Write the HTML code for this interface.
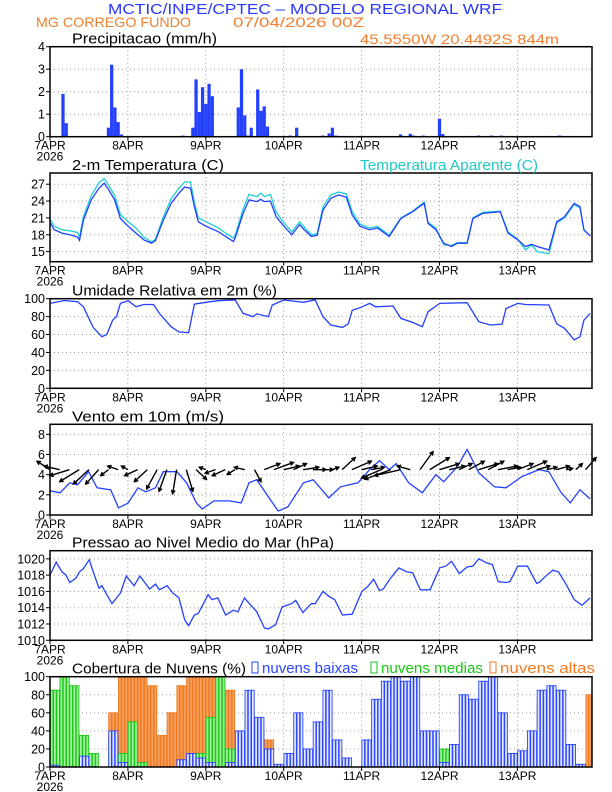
<!DOCTYPE html>
<html><head><meta charset="utf-8"><style>
body{margin:0;background:#fff}
svg{display:block;font-family:"Liberation Sans",sans-serif}
</style></head><body>
<svg id="c" width="612" height="792" viewBox="0 0 612 792">
<text x="108" y="14" font-size="15" fill="#2838ff" textLength="394" lengthAdjust="spacingAndGlyphs">MCTIC/INPE/CPTEC – MODELO REGIONAL WRF</text>
<text x="36" y="27" font-size="14" fill="#f08030" textLength="155" lengthAdjust="spacingAndGlyphs">MG CORREGO FUNDO</text>
<text x="233" y="27" font-size="14" fill="#f08030" textLength="131" lengthAdjust="spacingAndGlyphs">07/04/2026 00Z</text>
<text x="360" y="44" font-size="14" fill="#f08030" textLength="199" lengthAdjust="spacingAndGlyphs">45.5550W 20.4492S 844m</text>
</svg>
<script>
// ---- data ----
const precipHours=[4,5,18,19,20,21,22,41,44,45,46,47,48,49,50,58,59,60,61,62,64,65,66,67,74,76,84,86,87,88,108,111,112,115,120,121,132,136,139,157];
const precipVals=[1.9,0.6,0.4,3.2,1.3,0.65,0.1,0.05,0.4,2.55,1.1,2.2,1.45,2.35,1.8,1.3,3.0,0.95,0.05,0.4,2.1,1.15,1.35,0.45,0.05,0.4,0.05,0.15,0.4,0.05,0.1,0.13,0.05,0.05,0.8,0.12,0.05,0.05,0.05,0.05];
const tempHours=[0,1.3,3.7,6.1,8.5,9.1,10.3,12.7,15.1,16.7,18.1,19.9,21.7,24.1,26.5,28.9,31.3,32.5,34.9,37.3,39.7,41.5,43.3,44.5,45.7,48.1,51.7,54.1,56.5,57.1,59.5,61.3,63.7,64.9,66.1,67.9,69.7,72.1,74.5,76.9,78.1,80.5,82.3,84.1,86.5,88.9,91.3,93.1,95.5,98.5,100.9,104.5,108.1,111.7,115.3,116.5,118.9,121.3,123.7,125.5,128.5,130.3,133.3,138.7,141.1,144.1,146.5,148.3,150.1,153.7,156.1,158.5,161.5,163.3,164.5,166.4];
const tempVals=[20.2,18.9,18.3,18.0,17.6,17.0,20.6,24.2,26.3,27.2,26.0,24.2,20.9,19.5,18.3,17.1,16.5,17.0,20.6,23.6,25.4,26.5,26.3,23.0,20.3,19.5,18.6,17.7,16.8,17.5,21.8,24.2,23.9,24.3,23.9,24.0,21.2,19.5,18.0,19.8,19.0,17.7,17.9,22.4,24.5,25.1,24.7,21.5,19.5,18.9,19.2,17.7,20.9,22.1,23.6,20.0,18.9,16.5,15.9,16.5,16.5,20.9,21.8,22.1,18.3,17.1,15.9,16.3,15.9,15.3,20.3,21.2,23.6,23.0,18.9,17.8];
const apparentVals=[20.8,19.5,18.9,18.7,18.4,17.6,21.2,25,27.3,28.0,26.8,25,21.6,20.3,19.2,17.6,16.7,17.2,21.2,24.4,26.3,27.4,27.4,23.8,21.0,20.3,19.3,18.3,17.4,18.0,22.6,25.2,24.8,25.4,24.8,25.2,22.0,20.1,18.5,20.3,19.5,18.0,18.2,23.0,25.1,25.6,25.3,22.1,19.9,19.2,19.5,17.9,21.0,22.2,23.8,20.2,19.2,16.2,16.1,16.6,16.6,21.0,22.0,22.2,18.5,17.2,15.3,16.2,15.0,14.6,20.1,21.0,23.4,22.8,18.8,17.8];
const rhHours=[0,2.5,4.3,8.5,10.3,13.3,16,17.5,19.3,20.5,21.7,24.1,26.5,28.9,31.9,33.7,37.3,39.7,42.7,44.5,48.1,51.7,57.1,59.5,62.5,63.7,67.3,68.5,72.1,78.1,80.5,81.7,84.1,86.5,90.1,91.9,93.1,95.5,98.5,100.3,105.7,108.1,111.7,114.7,116.5,120.1,128.5,132.1,135.7,139.3,140.5,144.1,146.5,153.7,156.1,158.5,161.5,163.3,164.5,166.4];
const rhVals=[94.8,96.7,98,96.7,91,68,57.6,60,76,80,94.8,97.8,91,93.5,93.5,83.6,68.8,63,62,94,96,97.8,98.5,83.6,80,83,80,93,98.5,96,97.8,98.5,80,70.6,68,72,87,90,94.8,91,91.8,78,73.6,68.8,85.5,94.8,95.5,74.3,70.6,71.7,89,94.8,93.5,93,72,67,54,57.6,76,83.6];
const windHours=[0,3.1,6.1,8.5,11.9,14.5,18.7,21.1,24.1,27.1,29.5,32.5,34.9,39.1,42.1,45.1,46.9,50.5,55.3,58.9,61.3,63.7,67.3,70.3,73.3,78.1,81.1,85.9,89.5,94.9,98.5,101.5,104.5,106.7,110.5,114.7,118.9,121.3,125.5,128.5,132.1,136.9,140.5,145.3,150.7,153.7,157.3,160.3,163.3,166.4];
const windVals=[2.4,2.2,3.2,3.0,4.3,2.7,2.5,0.7,1.2,2.7,2.3,2.7,4.3,4.3,3.2,1.2,0.6,1.4,1.4,1.2,3.2,3.5,1.8,0.4,0.8,3.2,3.5,1.7,2.8,3.2,4.5,5.4,4.5,5.1,3.2,2.2,4.0,3.3,4.8,6.5,4.2,2.8,2.7,3.8,4.5,4.3,2.3,1.2,2.5,1.6];
const windU=[-1,-1.2,-1.5,-1.5,-1.2,-1,-0.6,-0.8,-0.5,-1,-1,-0.8,-0.6,-0.3,0.5,0.8,-0.5,-0.8,-1,-0.6,-0.8,0.5,1.2,1.5,1.2,1,1.2,1,0.8,0.5,1.0,1.5,1.2,1,-1.5,-2,-2,-1,1,1.5,1.5,1.2,1,1.2,1.5,1.2,1.5,1,1.2,1.5,1,0.8,1,0.5,0.5,0.8];
const windV=[0.7,0.3,-0.5,-1.0,-1.2,-1.2,-0.5,0.3,0.3,-0.5,-1,-1.6,-1.8,-2,-1.8,-0.8,0.2,-0.3,-0.5,-0.4,0.2,-1.0,0.5,0.6,0.3,0.5,0.2,0,0,0.2,1.0,0.7,0.3,0.2,-0.7,-0.8,-0.5,0.3,1.5,1,0.5,0.3,0.5,0.7,0.5,0.7,0.3,0.2,0.5,0.7,0.3,0.2,0.3,0.1,0.5,1.0];
const presHours=[0,1.9,3.7,4.9,6.1,7.9,9.1,10.3,12.1,13.3,15.1,16,17.5,19.1,21.7,23.5,25.9,27.7,30.7,32.5,33.7,36.1,37.9,39.7,41.5,42.7,44.5,45.7,48.7,49.9,51.7,54.1,56.5,57.9,59.9,61.9,63.7,66.1,67.3,69.5,71.5,74.5,75.7,77.9,80.5,81.7,84.1,85.9,87.7,90.1,93.1,96.1,97.9,99.7,101.5,102.7,104.5,107.5,109.9,111.7,114.1,117.1,120.1,121.9,123.7,126.1,128.5,130.3,132.1,134.5,136.3,138.1,140.5,141.7,144.1,147.1,149.9,150.7,152.5,154.9,156.7,159.1,161.5,163.9,166.4];
const presVals=[1018.0,1019.6,1018.4,1018.0,1017.1,1017.6,1018.4,1018.8,1019.9,1018.4,1016.4,1016.7,1015.6,1014.5,1015.8,1017.9,1016.7,1017.9,1016.3,1016.9,1016.2,1016.7,1015.8,1015.2,1012.5,1011.8,1013.1,1013.3,1015.6,1015.0,1015.2,1013.1,1013.7,1013.5,1015.2,1014.3,1013.5,1011.5,1011.4,1011.9,1014.1,1014.5,1014.9,1013.4,1014.5,1014.5,1016.0,1015.4,1015.0,1013.1,1013.2,1016.0,1016.6,1017.5,1016.1,1016.3,1017.4,1018.9,1018.4,1018.3,1016.2,1016.2,1018.9,1019.1,1019.7,1018.2,1019.0,1019.1,1020.0,1019.5,1019.3,1017.2,1017.1,1017.2,1019.1,1019.1,1017.0,1017.1,1017.8,1018.6,1018.4,1016.8,1015.0,1014.3,1015.2];
const cloudHigh=[85,98,40,25,0,0,60,100,100,100,90,35,60,90,100,100,100,100,85,40,60,45,30,0,0,10,0,0,50,20,0,0,0,0,0,0,0,0,0,0,0,0,0,0,0,0,0,0,0,20,75,35,0,0,0,80];
const cloudMid=[85,100,90,35,15,0,30,15,50,5,0,0,0,0,0,15,55,100,20,5,60,15,5,0,0,0,0,0,0,0,0,0,0,0,0,0,0,0,0,5,20,0,0,0,0,0,0,0,0,0,0,0,0,0,0,0];
const cloudLow=[2,0,0,12,0,0,40,5,0,0,0,0,0,8,15,10,5,0,5,40,85,55,20,3,15,60,20,50,85,30,10,0,30,75,95,100,95,100,40,40,5,25,80,75,95,100,60,15,18,40,85,90,85,25,3,0];
const dayLabels=["7APR","8APR","9APR","10APR","11APR","12APR","13APR"];
const precipTicks=[0,1,2,3,4], tempTicks=[15,18,21,24,27], rhTicks=[0,20,40,60,80,100], windTicks=[0,2,4,6,8], presTicks=[1010,1012,1014,1016,1018,1020], cloudTicks=[0,20,40,60,80,100];

// ---- layout ----
const svg=document.getElementById('c'), NS='http://www.w3.org/2000/svg';
const L=50, R=592, PXH=77.9/24;
const X=h=>L+h*PXH;
function el(tag,attrs,parent){const e=document.createElementNS(NS,tag);for(const k in attrs)e.setAttribute(k,attrs[k]);(parent||svg).appendChild(e);return e;}
function panel(name,top,bot,min,max,ticks,title,tlen){
  const g=el('g',{});
  
  
  const Y=v=>bot-(v-min)/(max-min)*(bot-top);
  for(let d=1;d<7;d++){const ln=el('line',{x1:X(d*24),x2:X(d*24),y1:top,y2:bot,stroke:'#999','stroke-dasharray':'1,3'},g);
    }
  ticks.forEach(t=>{
    if(t!==min&&t!==max){const gl=el('line',{x1:L,x2:R,y1:Y(t),y2:Y(t),stroke:'#999','stroke-dasharray':'1,3'},g);
      }
    el('line',{x1:L-4,x2:L,y1:Y(t),y2:Y(t),stroke:'#000'},g);
    const tx=el('text',{x:L-5,y:Y(t)+4.5,'font-size':12.5,'text-anchor':'end'},g);tx.textContent=t;
    
  });
  dayLabels.forEach((s,i)=>{
    el('line',{x1:X(i*24),x2:X(i*24),y1:bot,y2:bot+4,stroke:'#000'},g);
    const tx=el('text',{x:X(i*24),y:bot+13,'font-size':12,'text-anchor':'middle'},g);tx.textContent=s;
    
  });
  const yr=el('text',{x:L,y:bot+24,'font-size':12,'text-anchor':'middle'},g);yr.textContent='2026';
  
  const tt=el('text',{x:72,y:top-3,'font-size':14.5,textLength:tlen,lengthAdjust:'spacingAndGlyphs'},g);tt.textContent=title;
  
  return {g,Y,top,bot};
}
function frame(p){const r=el('rect',{x:L,y:p.top,width:R-L,height:p.bot-p.top,fill:'none',stroke:'#000','stroke-width':1.5},p.g);
  }
function line(p,hs,vs,color,name){
  const d=hs.map((h,i)=>(i?'L':'M')+X(h).toFixed(1)+','+p.Y(vs[i]).toFixed(1)).join('');
  const pa=el('path',{d,fill:'none',stroke:color,'stroke-width':1.3},p.g);
  
}
function legendText(x,y,t,c,len,name){const tx=el('text',{x,y,'font-size':14.5,fill:c,textLength:len,lengthAdjust:'spacingAndGlyphs'});tx.textContent=t;
  return tx;}

// precipitation
const p1=panel('precipitation',46.7,136.7,0,4,precipTicks,'Precipitacao (mm/h)',145);
precipHours.forEach((h,i)=>{const b=el('rect',{x:X(h-0.5),y:p1.Y(precipVals[i]),width:PXH,height:p1.bot-p1.Y(precipVals[i]),fill:'#2440ff'},p1.g);
  });
frame(p1);

// temperature
const p2=panel('temperature',173,261.7,13.2,29.0,tempTicks,'2-m Temperatura (C)',152);
line(p2,tempHours,apparentVals,'#20d0d0','apparent-temp-line');
line(p2,tempHours,tempVals,'#2440ff','temp-line');
frame(p2);
legendText(360,170,'Temperatura Aparente (C)','#20c8c8',178,'apparent-temp-legend');

// humidity
const p3=panel('humidity',298.7,388.3,0,100,rhTicks,'Umidade Relativa em 2m (%)',205);
line(p3,rhHours,rhVals,'#2440ff','humidity-line');
frame(p3);

// wind
const p4=panel('wind',424.3,515,0,9,windTicks,'Vento em 10m (m/s)',152);
line(p4,windHours,windVals,'#2440ff','wind-speed-line');
windU.forEach((u,i)=>{
  const x0=X(i*3), y0=p4.Y(4.5), x1=x0+u*13, y1=y0-windV[i]*12;
  const ang=Math.atan2(y1-y0,x1-x0), a=4;
  const d=`M${x0},${y0}L${x1},${y1}M${x1-a*Math.cos(ang-0.5)},${y1-a*Math.sin(ang-0.5)}L${x1},${y1}L${x1-a*Math.cos(ang+0.5)},${y1-a*Math.sin(ang+0.5)}`;
  const ar=el('path',{d,fill:'none',stroke:'#000','stroke-width':1.4},p4.g);
  
});
frame(p4);

// pressure
const p5=panel('pressure',550.7,640.3,1010,1021,presTicks,'Pressao ao Nivel Medio do Mar (hPa)',262);
line(p5,presHours,presVals,'#2440ff','pressure-line');
frame(p5);

// clouds
const p6=panel('clouds',676.7,767,0,100,cloudTicks,'Cobertura de Nuvens (%)',174);
function cloudBars(vals,fill,stroke,name){
  vals.forEach((v,i)=>{ if(v<=0) return;
    for(let k=0;k<3;k++){const h=i*3+k; if(h>=167) break;
      const b=el('rect',{x:X(h)+0.3,y:p6.Y(v),width:PXH-0.6,height:p6.bot-p6.Y(v),fill,stroke,'stroke-width':0.9},p6.g);
      }
  });
}
cloudBars(cloudHigh,'#f4a060','#f07a20','high-cloud-bar');
cloudBars(cloudMid,'#a8f0a0','#18c818','mid-cloud-bar');
cloudBars(cloudLow,'#e4e9ff','#2a44ff','low-cloud-bar');
frame(p6);
[['nuvens baixas','#2a44ff',252,96],['nuvens medias','#18c818',371,102],['nuvens altas','#f07a20',490,95]].forEach(([t,c,x,len])=>{
  const bx=el('rect',{x:x,y:662,width:6,height:11,fill:'none',stroke:c});
  
  
  legendText(x+10,673,t,c,len,'legend-entry');
});
</script>
</body></html>
